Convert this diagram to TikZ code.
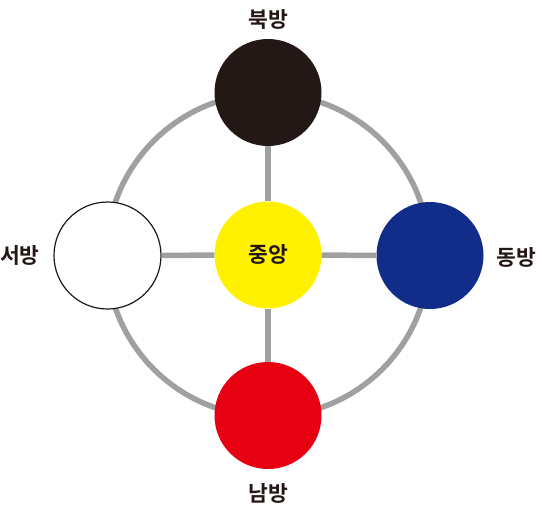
\documentclass[tikz,border=0pt]{standalone}
\usepackage{fontspec}
\newfontfamily\kr{Noto Sans CJK KR}[BoldFont={Noto Sans CJK KR Bold}]
\definecolor{cblack}{HTML}{231815}
\definecolor{cblue}{HTML}{122C8A}
\definecolor{cred}{HTML}{E60012}
\definecolor{cyellow}{HTML}{FFF100}
\definecolor{cgray}{HTML}{9FA0A0}
\tikzset{
  disc/.style={circle, minimum size=107pt, inner sep=0pt},
  conn/.style={draw=cgray, line width=5.5pt},
  lab/.style={font=\kr\bfseries\fontsize{21.5pt}{24pt}\selectfont, text=cblack, inner sep=0pt}
}
\begin{document}
\begin{tikzpicture}[x=1pt,y=-1pt]
\useasboundingbox (0,0) rectangle (538,512);
\coordinate (o) at (268,255);
\draw[conn] (o) circle[radius=161.5pt];
\node[disc, fill=cyellow] (c) at (268,255) {};
\node[disc, fill=cblack] (n) at (268,92.5) {};
\node[disc, fill=white, draw=cblack, line width=1.2pt] (w) at (107.5,255.5) {};
\node[disc, fill=cblue] (e) at (430,255.5) {};
\node[disc, fill=cred] (s) at (268,415.5) {};
\draw[conn] (c) -- (n);
\draw[conn] (c) -- (s);
\draw[conn] (c) -- (w);
\draw[conn] (c) -- (e);
\node[lab] (cl) at (268,254) {중앙};
\node[lab] (nl) at (268,19) {북방};
\node[lab] (wl) at (20,255) {서방};
\node[lab] (el) at (516,257) {동방};
\node[lab] (sl) at (268,493) {남방};
\end{tikzpicture}
\end{document}
